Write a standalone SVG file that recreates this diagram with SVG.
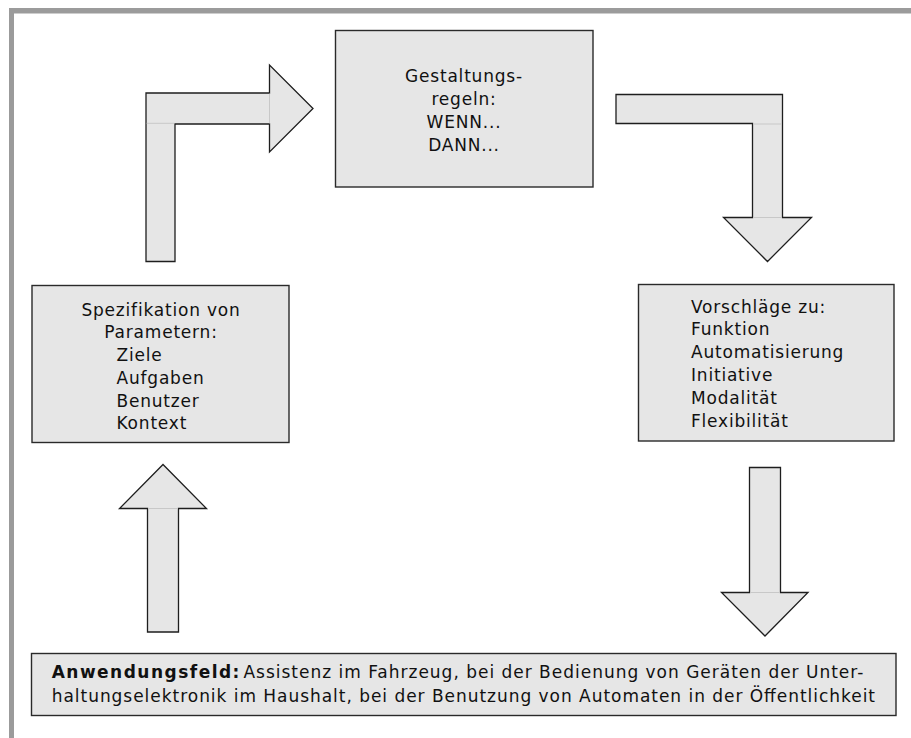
<svg xmlns="http://www.w3.org/2000/svg" width="911" height="738" viewBox="0 0 911 738">
  <style>
    .frame { fill: #9b9b9b; }
    .box { fill: #e6e6e6; stroke: #2a2a2a; stroke-width: 1.4; }
    .arrow { fill: #e6e6e6; stroke: #1e1e1e; stroke-width: 1.3; stroke-linejoin: miter; }
    .seam { stroke: #c8c8c8; stroke-width: 1; }
    .t { font-family: "DejaVu Sans", Verdana, sans-serif; font-size: 17px; letter-spacing: 0.8px; fill: #111; }
    .c { text-anchor: middle; }
    .b { font-family: "DejaVu Sans", Verdana, sans-serif; font-size: 17px; fill: #111; }
    .bold { font-weight: bold; }
  </style>

  <!-- page frame: top and left bands -->
  <rect class="frame" x="9" y="8" width="902" height="5.5"/>
  <rect class="frame" x="9" y="8" width="5" height="730"/>

  <!-- connectors (block arrows) -->
  <g id="connectors">
    <g id="arrow-spec-to-rules">
      <path class="arrow" d="M146,261.5 L146,93 L269.5,93 L269.5,65 L313,108.5 L269.5,152 L269.5,124 L175,124 L175,261.5 Z"/>
      <line class="seam" x1="146.7" y1="123.3" x2="174.3" y2="123.3"/>
      <line class="seam" x1="269.5" y1="93.7" x2="269.5" y2="123.3"/>
    </g>
    <g id="arrow-rules-to-proposals">
      <path class="arrow" d="M616,94.5 L782.5,94.5 L782.5,217.5 L811.5,217.5 L767.5,261.5 L723.5,217.5 L752.5,217.5 L752.5,123.5 L616,123.5 Z"/>
      <line class="seam" x1="753.2" y1="124" x2="781.8" y2="124"/>
      <line class="seam" x1="753.2" y1="217.5" x2="781.8" y2="217.5"/>
    </g>
    <g id="arrow-field-to-spec">
      <path class="arrow" d="M147.5,632 L147.5,508.5 L119.5,508.5 L163,464.5 L206.5,508.5 L178.5,508.5 L178.5,632 Z"/>
      <line class="seam" x1="148.2" y1="508.5" x2="177.8" y2="508.5"/>
    </g>
    <g id="arrow-proposals-to-field">
      <path class="arrow" d="M749.5,467.5 L780.5,467.5 L780.5,592.5 L808,592.5 L765,636 L721.5,592.5 L749.5,592.5 Z"/>
      <line class="seam" x1="750.2" y1="592.5" x2="779.8" y2="592.5"/>
    </g>
  </g>

  <!-- design rules -->
  <g id="node-rules">
    <rect class="box" x="335.5" y="30.5" width="257.5" height="156.5"/>
    <text class="t c" x="464" y="82">Gestaltungs-</text>
    <text class="t c" x="464" y="105">regeln:</text>
    <text class="t c" x="464" y="128">WENN...</text>
    <text class="t c" x="464" y="151">DANN...</text>
  </g>

  <!-- parameter specification -->
  <g id="node-spec">
    <rect class="box" x="32" y="285.5" width="257" height="157"/>
    <text class="t c" x="161" y="315.5">Spezifikation von</text>
    <text class="t c" x="161" y="338">Parametern:</text>
    <text class="t" x="116.5" y="361">Ziele</text>
    <text class="t" x="116.5" y="383.5">Aufgaben</text>
    <text class="t" x="116.5" y="406.5">Benutzer</text>
    <text class="t" x="116.5" y="429">Kontext</text>
  </g>

  <!-- proposals -->
  <g id="node-proposals">
    <rect class="box" x="638.5" y="284.5" width="255.5" height="156.5"/>
    <text class="t" x="691" y="312.5">Vorschläge zu:</text>
    <text class="t" x="691" y="335.3">Funktion</text>
    <text class="t" x="691" y="358.1">Automatisierung</text>
    <text class="t" x="691" y="380.9">Initiative</text>
    <text class="t" x="691" y="403.7">Modalität</text>
    <text class="t" x="691" y="426.5">Flexibilität</text>
  </g>

  <!-- field of application -->
  <g id="node-field">
    <rect class="box" x="31.5" y="653.5" width="864.5" height="62"/>
    <text class="b bold" x="51.7" y="677.5" textLength="187.7" lengthAdjust="spacing">Anwendungsfeld:</text>
    <text class="b" x="243.5" y="677.5" textLength="619.8" lengthAdjust="spacing">Assistenz im Fahrzeug, bei der Bedienung von Geräten der Unter-</text>
    <text class="b" x="51.7" y="701.5" textLength="823.3" lengthAdjust="spacing">haltungselektronik im Haushalt, bei der Benutzung von Automaten in der Öffentlichkeit</text>
  </g>
</svg>
